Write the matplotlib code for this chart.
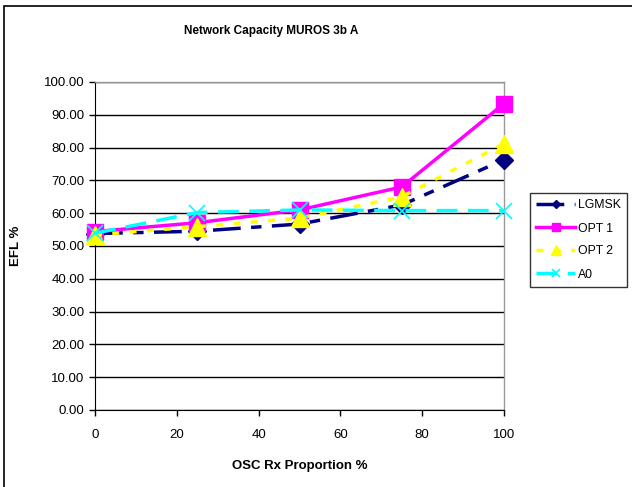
import matplotlib
matplotlib.use("Agg")
import matplotlib.pyplot as plt
from matplotlib.patches import Rectangle

plt.rcParams['font.family'] = ['Liberation Sans', 'DejaVu Sans']

x = [0, 25, 50, 75, 100]
lgmsk = [53.8, 54.5, 56.7, 62.5, 76.3]
opt1 = [54.4, 57.1, 61.0, 68.0, 93.4]
opt2 = [53.4, 55.9, 58.5, 65.0, 81.2]
a0 = [53.9, 60.2, 61.0, 60.8, 60.8]
yticks = [0, 10, 20, 30, 40, 50, 60, 70, 80, 90, 100]
xticks = [0, 20, 40, 60, 80, 100]

fig = plt.figure(figsize=(6.32, 4.87), dpi=100)
fig.patches.append(Rectangle((4/632, -0.01), 1.0, 1 - 6/487 + 0.01, transform=fig.transFigure,
                             fill=False, edgecolor='black', linewidth=1.2))
ax = fig.add_axes([95/632, 77/487, 409/632, 328/487])

ax.plot(x, lgmsk, color='#000080', linestyle=(0, (8, 3, 3, 3)), linewidth=2.5,
        marker='D', markersize=9, label='LGMSK', clip_on=False, zorder=3)
ax.plot(x, opt1, color='#FF00FF', linestyle='-', linewidth=2.5,
        marker='s', markersize=12, label='OPT 1', clip_on=False, zorder=3)
ax.plot(x, opt2, color='#FFFF00', linestyle=(0, (2, 3)), linewidth=2.5,
        marker='^', markersize=13, label='OPT 2', clip_on=False, zorder=3)
ax.plot(x, a0, color='#00FFFF', linestyle=(0, (6, 3)), linewidth=2.5,
        marker='x', markersize=12, markeredgewidth=1.2, label='A0', clip_on=False, zorder=3)

ax.set_xlim(0, 100)
ax.set_ylim(0, 100)
ax.set_xticks(xticks)
ax.set_yticks(yticks)
ax.set_yticklabels([f"{v:.2f}" for v in yticks])
ax.tick_params(labelsize=9.5, direction='out', length=4, width=1)
ax.tick_params(axis='x', pad=10)
ax.grid(axis='y', color='black', linewidth=1)
ax.set_axisbelow(True)
for s in ['top', 'right']:
    ax.spines[s].set_color('#999999')
    ax.spines[s].set_linewidth(1)
for s in ['left', 'bottom']:
    ax.spines[s].set_color('black')

ax.set_xlabel('OSC Rx Proportion %', fontsize=9.5, fontweight='bold')
ax.set_ylabel('EFL %', fontsize=9.5, fontweight='bold')
ax.xaxis.set_label_coords(0.5, (410 - 460) / 328)
ax.yaxis.set_label_coords((22 - 95) / 409, 0.5)
fig.text(271/632, 1 - 31/487, 'Network Capacity MUROS 3b A', fontsize=8.5,
         fontweight='bold', ha='center', va='center')

leg = ax.legend(loc='center left', bbox_to_anchor=(530/632, 247/487), bbox_transform=fig.transFigure,
                fontsize=8.8, frameon=True, fancybox=False, edgecolor='black',
                handlelength=3.2, borderpad=0.5, labelspacing=0.9, handletextpad=0.2,
                borderaxespad=0, markerscale=0.5)
leg.get_frame().set_linewidth(1)

fig.savefig('out.png', dpi=100)
